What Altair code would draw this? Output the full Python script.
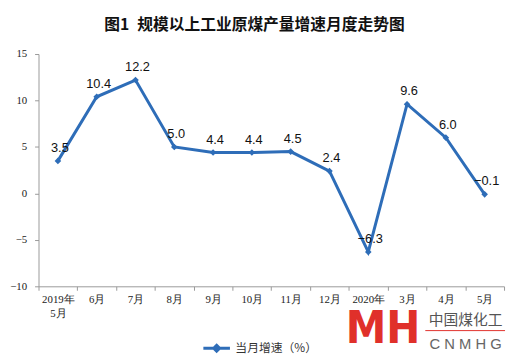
import altair as alt
import pandas as pd

months = ["2019年|5月", "6月", "7月", "8月", "9月", "10月", "11月", "12月",
          "2020年|2月", "3月", "4月", "5月"]
values = [3.5, 10.4, 12.2, 5.0, 4.4, 4.4, 4.5, 2.4, -6.3, 9.6, 6.0, -0.1]
series_name = "当月增速（%）"
y_ticks = [-10, -5, 0, 5, 10, 15]
title_text = "图1\u2002规模以上工业原煤产量增速月度走势图"

BLUE = "#2E6DB8"

df = pd.DataFrame({"month": months, "value": values, "series": [series_name] * len(months)})

x_enc = alt.X(
    "month:N", sort=months, title=None,
    scale=alt.Scale(type="band", paddingInner=0, paddingOuter=0),
    axis=alt.Axis(
        labelExpr="split(datum.label, '|')", labelAngle=0, tickBand="extent",
        labelFont="Liberation Serif", labelFontSize=11, labelColor="#222",
        labelLineHeight=15, labelPadding=3, tickSize=4, tickColor="#999",
        domainColor="#999", grid=False,
    ),
)
y_enc = alt.Y(
    "value:Q", title=None,
    scale=alt.Scale(domain=[-10, 15], nice=False, zero=False),
    axis=alt.Axis(
        values=y_ticks, labelFont="Liberation Serif", labelFontSize=11,
        labelColor="#222", tickSize=4, tickColor="#999", domainColor="#999",
        labelPadding=8, grid=False,
    ),
)

base = alt.Chart(df)

line = base.mark_line(strokeWidth=3).encode(
    x=x_enc, y=y_enc,
    color=alt.Color(
        "series:N", scale=alt.Scale(range=[BLUE]),
        legend=alt.Legend(
            title=None, orient="none", legendX=166, legendY=284,
            symbolType="M-1,0H1M0,-0.22L0.22,0L0,0.22L-0.22,0Z",
            symbolSize=729, symbolStrokeWidth=3, symbolStrokeColor=BLUE,
            symbolFillColor=BLUE, labelFont="Noto Sans CJK SC",
            labelFontSize=12, labelColor="#333", labelOffset=4,
        ),
    ),
)
points = base.mark_point(shape="diamond", filled=True, size=45, opacity=1).encode(
    x=x_enc, y=y_enc, color=alt.value(BLUE)
)
text = base.mark_text(
    font="Liberation Sans", fontSize=13, color="#111", baseline="bottom", dy=-6, dx=2
).encode(x=x_enc, y=y_enc, text=alt.Text("value:Q", format=".1f"))

logo_df = pd.DataFrame({"a": [1]})
logo_bg = alt.Chart(logo_df).mark_rect(color="white").encode(
    x=alt.value(314), x2=alt.value(384), y=alt.value(257), y2=alt.value(300)
)
logo = alt.Chart(logo_df).mark_text(
    text="MH", font="DejaVu Sans Condensed", fontWeight="bold", fontSize=46,
    color="#E0302A", baseline="alphabetic", align="center"
).encode(x=alt.value(350), y=alt.value(294))
logo_cn = alt.Chart(logo_df).mark_text(
    text="中国煤化工", font="Noto Sans CJK SC", fontSize=15, color="#555",
    baseline="middle", align="center"
).encode(x=alt.value(434), y=alt.value(270))
logo_rule = alt.Chart(logo_df).mark_rule(color="#E0302A", strokeWidth=1).encode(
    x=alt.value(393), x2=alt.value(474), y=alt.value(281)
)
logo_en = alt.Chart(logo_df).mark_text(
    text="C N M H G", font="Liberation Sans", fontSize=15, color="#666",
    baseline="middle", align="center"
).encode(x=alt.value(434), y=alt.value(295))

chart = alt.layer(line, points, text, logo_bg, logo, logo_cn, logo_rule, logo_en).properties(
    width=473, height=236,
    autosize=alt.AutoSizeParams(type="none"),
    padding={"left": 31, "top": 44, "right": 3, "bottom": 66},
    title=alt.TitleParams(
        title_text, font="Noto Sans CJK SC", fontSize=16, fontWeight="bold",
        color="#111", anchor="middle", dx=-17, offset=15,
    ),
).configure_view(stroke=None)

chart.save("out.html", embed_options={"renderer": "svg", "actions": False})
